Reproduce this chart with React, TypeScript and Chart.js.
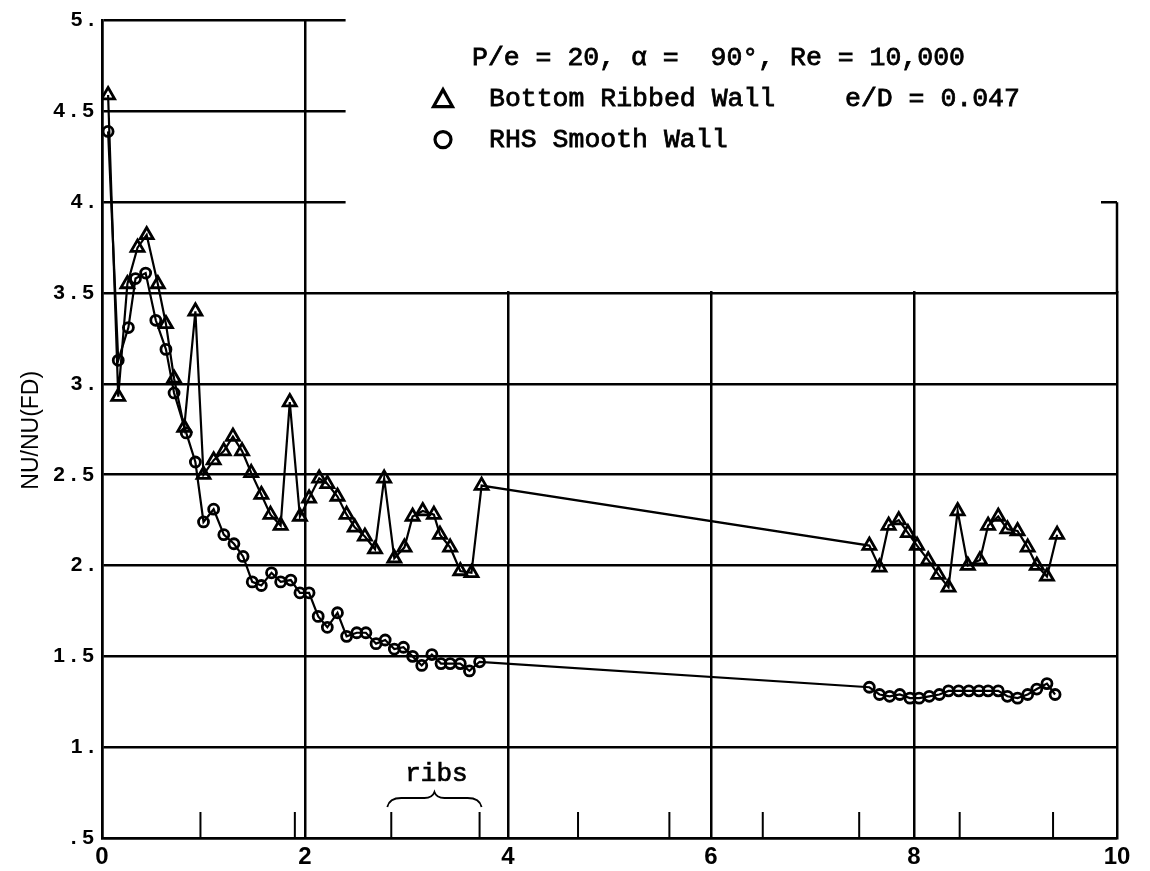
import React, { useEffect, useRef } from 'react';
import { Chart, registerables } from 'chart.js';

Chart.register(...registerables);

// ---- data ----
const ribbedX = [0.06, 0.16, 0.25, 0.35, 0.44, 0.55, 0.63, 0.71, 0.81, 0.92, 1.0, 1.1, 1.2, 1.29, 1.38, 1.47, 1.57, 1.66, 1.76, 1.85, 1.95, 2.04, 2.14, 2.22, 2.32, 2.41, 2.49, 2.59, 2.69, 2.78, 2.88, 2.98, 3.06, 3.16, 3.27, 3.33, 3.43, 3.53, 3.64, 3.74, 7.56, 7.66, 7.75, 7.85, 7.94, 8.03, 8.14, 8.24, 8.34, 8.43, 8.53, 8.65, 8.73, 8.83, 8.92, 9.02, 9.12, 9.21, 9.31, 9.41];
const ribbedY = [4.59, 2.93, 3.55, 3.75, 3.82, 3.55, 3.33, 3.03, 2.76, 3.4, 2.5, 2.58, 2.63, 2.71, 2.63, 2.51, 2.39, 2.28, 2.22, 2.9, 2.27, 2.37, 2.48, 2.45, 2.38, 2.28, 2.21, 2.16, 2.09, 2.48, 2.04, 2.1, 2.27, 2.3, 2.28, 2.17, 2.1, 1.97, 1.96, 2.44, 2.11, 1.99, 2.22, 2.25, 2.18, 2.11, 2.03, 1.95, 1.88, 2.3, 2.0, 2.03, 2.22, 2.27, 2.2, 2.19, 2.1, 2.0, 1.94, 2.17];
const smoothX = [0.06, 0.16, 0.26, 0.33, 0.43, 0.53, 0.63, 0.71, 0.83, 0.92, 1.0, 1.1, 1.2, 1.3, 1.39, 1.48, 1.57, 1.67, 1.76, 1.86, 1.95, 2.04, 2.13, 2.22, 2.32, 2.41, 2.51, 2.6, 2.7, 2.79, 2.88, 2.97, 3.06, 3.15, 3.25, 3.34, 3.43, 3.53, 3.62, 3.72, 7.56, 7.66, 7.76, 7.86, 7.96, 8.05, 8.15, 8.25, 8.34, 8.44, 8.54, 8.64, 8.73, 8.83, 8.92, 9.02, 9.12, 9.21, 9.31, 9.39];
const smoothY = [4.39, 3.13, 3.31, 3.58, 3.61, 3.35, 3.19, 2.95, 2.73, 2.57, 2.24, 2.31, 2.17, 2.12, 2.05, 1.91, 1.89, 1.96, 1.91, 1.92, 1.85, 1.85, 1.72, 1.66, 1.74, 1.61, 1.63, 1.63, 1.57, 1.59, 1.54, 1.55, 1.5, 1.45, 1.51, 1.46, 1.46, 1.46, 1.42, 1.47, 1.33, 1.29, 1.28, 1.29, 1.27, 1.27, 1.28, 1.29, 1.31, 1.31, 1.31, 1.31, 1.31, 1.31, 1.28, 1.27, 1.29, 1.32, 1.35, 1.29];

const yTickValues = [0.5, 1, 1.5, 2, 2.5, 3, 3.5, 4, 4.5, 5];
const yTickLabels = ['.5', '1.', '1.5', '2.', '2.5', '3.', '3.5', '4.', '4.5', '5.'];
const xTickValues = [0, 2, 4, 6, 8, 10];
const xTickLabels = ['0', '2', '4', '6', '8', '10'];
const ribPositions = [0.97, 1.9, 2.85, 3.72, 4.69, 5.59, 6.51, 7.46, 8.45, 9.37];

const titleText = 'P/e = 20, \u03b1 =  90\u00b0, Re = 10,000';
const ribbedLabel = 'Bottom Ribbed Wall';
const smoothLabel = 'RHS Smooth Wall';
const edText = 'e/D = 0.047';
const yAxisTitle = 'NU/NU(FD)';
const ribsText = 'ribs';

// hidden-grid region behind the legend text (data units)
const maskXStart = 2.4;
const maskYStart = 3.5;

const INK = '#000';
const MONO = '"Liberation Mono", "DejaVu Sans Mono", monospace';
const SANS = '"Liberation Sans", Arial, sans-serif';

function inkText(ctx: any, s: string, x: number, y: number) {
  ctx.fillText(s, x, y);
  ctx.strokeText(s, x, y);
}

const overlayPlugin = {
  id: 'overlay',
  beforeDatasetsDraw(chart: any) {
    const { ctx, chartArea, scales } = chart;
    const x = scales.x;
    const y = scales.y;
    ctx.save();
    // white-out of the grid behind the legend block
    const mx0 = x.getPixelForValue(maskXStart);
    const myBottom = y.getPixelForValue(maskYStart) - 2;
    ctx.fillStyle = '#fff';
    ctx.fillRect(mx0, chartArea.top - 4, chartArea.right + 6 - mx0, myBottom - chartArea.top + 4);
    // right frame from the 4.0 level down
    ctx.strokeStyle = INK;
    ctx.lineWidth = 2.5;
    ctx.beginPath();
    const y4 = y.getPixelForValue(4);
    ctx.moveTo(chartArea.right, y4);
    ctx.lineTo(chartArea.right, myBottom + 2);
    ctx.moveTo(chartArea.right - 16, y4);
    ctx.lineTo(chartArea.right, y4);
    ctx.stroke();
    // rib marks on the bottom axis
    ctx.lineWidth = 2;
    ctx.beginPath();
    ribPositions.forEach((r) => {
      const px = x.getPixelForValue(r);
      ctx.moveTo(px, chartArea.bottom);
      ctx.lineTo(px, chartArea.bottom - 26);
    });
    ctx.stroke();
    // brace over two ribs
    const bx0 = x.getPixelForValue(ribPositions[2]) - 4;
    const bx1 = x.getPixelForValue(ribPositions[3]) + 2;
    const by = chartArea.bottom - 40;
    const bm = (bx0 + bx1) / 2;
    ctx.lineWidth = 1.8;
    ctx.beginPath();
    ctx.moveTo(bx0, by + 9);
    ctx.quadraticCurveTo(bx0 + 2, by, bx0 + 14, by);
    ctx.lineTo(bm - 10, by);
    ctx.quadraticCurveTo(bm - 2, by, bm, by - 6);
    ctx.quadraticCurveTo(bm + 2, by, bm + 10, by);
    ctx.lineTo(bx1 - 14, by);
    ctx.quadraticCurveTo(bx1 - 2, by, bx1, by + 9);
    ctx.stroke();
    ctx.fillStyle = INK;
    ctx.lineWidth = 0.7;
    ctx.font = `26px ${MONO}`;
    ctx.textAlign = 'center';
    ctx.textBaseline = 'middle';
    inkText(ctx, ribsText, bm + 2, by - 24);
    ctx.restore();
  },
  afterDraw(chart: any) {
    const { ctx, chartArea } = chart;
    ctx.save();
    ctx.fillStyle = INK;
    ctx.strokeStyle = INK;
    // y axis title
    ctx.font = `23px ${SANS}`;
    ctx.textAlign = 'center';
    ctx.textBaseline = 'middle';
    ctx.translate(32, (chartArea.top + chartArea.bottom) / 2 + 1);
    ctx.rotate(-Math.PI / 2);
    ctx.fillText(yAxisTitle, 0, 0);
    ctx.setTransform(1, 0, 0, 1, 0, 0);
    // legend block
    const lx = chartArea.left + 340;
    ctx.font = `26.5px ${MONO}`;
    ctx.textAlign = 'left';
    ctx.lineWidth = 0.8;
    inkText(ctx, titleText, lx + 30, chartArea.top + 37);
    inkText(ctx, ribbedLabel, lx + 47, chartArea.top + 78);
    inkText(ctx, edText, lx + 403, chartArea.top + 78);
    inkText(ctx, smoothLabel, lx + 47, chartArea.top + 119);
    // symbols
    ctx.lineWidth = 3.2;
    const sx = lx + 1;
    const ty = chartArea.top + 78;
    ctx.beginPath();
    ctx.moveTo(sx, ty - 9);
    ctx.lineTo(sx + 9.5, ty + 8);
    ctx.lineTo(sx - 9.5, ty + 8);
    ctx.closePath();
    ctx.stroke();
    ctx.beginPath();
    ctx.arc(sx, chartArea.top + 119, 8, 0, Math.PI * 2);
    ctx.stroke();
    ctx.restore();
  },
};

function spaced(s: string) {
  return s.split('').join(' ');
}

export default function App() {
  const canvasRef = useRef<HTMLCanvasElement | null>(null);

  useEffect(() => {
    const canvas = canvasRef.current;
    if (!canvas) return;
    const ribbed = ribbedX.map((v, i) => ({ x: v, y: ribbedY[i] }));
    const smooth = smoothX.map((v, i) => ({ x: v, y: smoothY[i] }));
    const chart = new Chart(canvas, {
      type: 'line',
      data: {
        datasets: [
          {
            label: ribbedLabel,
            data: ribbed,
            borderColor: INK,
            borderWidth: 2.2,
            pointStyle: 'triangle',
            pointRadius: 7.5,
            pointBorderWidth: 2.8,
            pointBorderColor: INK,
            pointBackgroundColor: 'rgba(0,0,0,0)',
            tension: 0,
          },
          {
            label: smoothLabel,
            data: smooth,
            borderColor: INK,
            borderWidth: 2.2,
            pointStyle: 'circle',
            pointRadius: 5,
            pointBorderWidth: 2.8,
            pointBorderColor: INK,
            pointBackgroundColor: 'rgba(0,0,0,0)',
            tension: 0,
          },
        ],
      },
      options: {
        animation: false,
        responsive: false,
        maintainAspectRatio: false,
        layout: { padding: { left: 0, top: 20, right: 33, bottom: 0 } },
        plugins: { legend: { display: false }, tooltip: { enabled: false }, title: { display: false } },
        scales: {
          x: {
            type: 'linear',
            min: 0,
            max: 10,
            afterFit: (s: any) => { s.height = 33; },
            afterBuildTicks: (s: any) => { s.ticks = xTickValues.map((v) => ({ value: v })); },
            ticks: {
              color: INK,
              padding: 5,
              font: { family: SANS, size: 24, weight: 'bold' },
              callback: (v: any) => {
                const i = xTickValues.indexOf(Number(v));
                return i >= 0 ? xTickLabels[i] : '';
              },
            },
            grid: { color: INK, lineWidth: 2.5, drawTicks: false },
            border: { display: true, color: INK, width: 2.5 },
          },
          y: {
            type: 'linear',
            min: 0.5,
            max: 5,
            afterFit: (s: any) => { s.width = 102; },
            afterBuildTicks: (s: any) => { s.ticks = yTickValues.map((v) => ({ value: v })); },
            ticks: {
              color: INK,
              padding: 8,
              font: { family: SANS, size: 21, weight: 'bold' },
              callback: (v: any) => {
                const i = yTickValues.indexOf(Math.round(Number(v) * 10) / 10);
                return i >= 0 ? spaced(yTickLabels[i]) : '';
              },
            },
            grid: { color: INK, lineWidth: 2.5, drawTicks: false },
            border: { display: true, color: INK, width: 2.5 },
          },
        },
      },
      plugins: [overlayPlugin],
    } as any);
    return () => chart.destroy();
  }, []);

  return (
    <div style={{ position: 'absolute', left: 0, top: 0, width: 1150, height: 871, background: '#fff' }}>
      <canvas ref={canvasRef} width={1150} height={871} style={{ display: 'block', width: 1150, height: 871 }} />
    </div>
  );
}
